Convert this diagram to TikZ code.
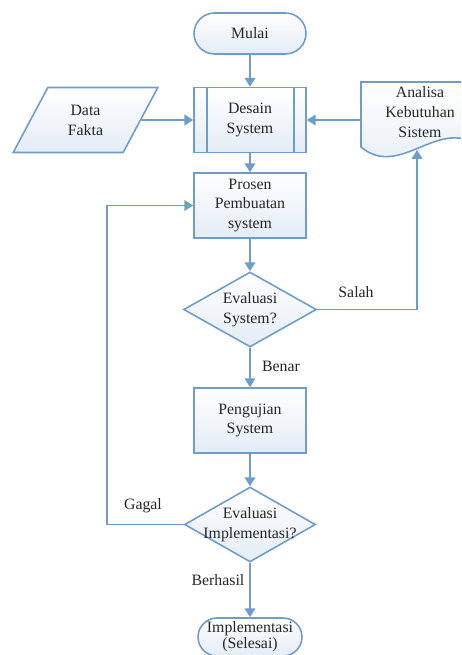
\documentclass[tikz,border=0pt]{standalone}
\usepackage{fontspec}
\setmainfont{Liberation Serif}
\usetikzlibrary{arrows.meta,shapes.geometric,calc}

\definecolor{flowline}{HTML}{6F9DCB}
\definecolor{flowfill}{HTML}{E4ECF6}
\definecolor{flowtext}{HTML}{262626}

\begin{document}
\begin{tikzpicture}[
			x = 0.02cm, y = -0.02cm,
			every node/.style = {font=\fontsize{9}{11.3}\selectfont, text=flowtext, align=center},
			box/.style = {draw=flowline, line width=0.9pt, top color=white, bottom color=flowfill,
				minimum width=2.24cm, minimum height=1.3cm, inner sep=0pt},
			terminal/.style = {box, minimum height=0.82cm, rounded corners=0.41cm},
			dataio/.style = {box, trapezium, trapezium left angle=62, trapezium right angle=118,
				trapezium stretches=true, minimum width=2.9cm},
			decision/.style = {box, diamond, minimum width=2.66cm, minimum height=1.5cm},
			flow/.style = {draw=flowline, line width=0.9pt},
			arrow/.style = {flow, -{Triangle[length=5pt,width=6pt]}}
			]

			\clip (0,0) rectangle (461,655);

			\node[terminal] (mulai) at (250,33.5) {Mulai};
			\node[box] (ds) at (250,120) {Desain\\System};
			\draw[flow] ($(ds.north west)+(14,0)$) -- ($(ds.south west)+(14,0)$);
			\draw[flow] ($(ds.north east)+(-13,0)$) -- ($(ds.south east)+(-13,0)$);

			\node[dataio] (df) at (85.5,120) {Data\\Fakta};

			% dokumen analisa
			\shade[top color=white, bottom color=flowfill, draw=flowline, line width=0.9pt]
				(361,82) -- (479,82) -- (479,147) .. controls (440,115) and (400,180) .. (361,147) -- cycle;
			\node[minimum width=2.36cm, minimum height=1.28cm, inner sep=0pt] (ak) at (420,112) {Analisa\\Kebutuhan\\Sistem};
			\coordinate (ak-in) at (417,150);

			\node[box] (ps) at (250,205.5) {Prosen\\Pembuatan\\system};
			\node[decision, label={[align=center]center:Evaluasi\\System?}] (es) at (250,309.5) {};
			\node[box] (pu) at (250,420.5) {Pengujian\\System};
			\node[decision, minimum width=2.62cm, label={[align=center]center:Evaluasi\\Implementasi?}] (ei) at (250,524.5) {};
			\node[terminal, minimum width=2.08cm, minimum height=0.76cm, rounded corners=0.38cm,
				font=\fontsize{9}{9.2}\selectfont] (selesai) at (250,637) {Implementasi\\(Selesai)};

			\coordinate (gl) at (107,0);

			\draw[arrow] (mulai) -- (ds);
			\draw[arrow] (df) -- (df -| ds.west);
			\draw[arrow] (ak.west |- ds.east) -- (ds.east);
			\draw[arrow] (ds) -- (ps);
			\draw[arrow] (ps) -- (es);
			\draw[arrow] (es.east) -| (ak-in);
			\draw[arrow] (es) -- (pu);
			\draw[arrow] (pu) -- (ei);
			\draw[arrow] (ei.west) -- (ei.west -| gl) |- (ps.west);
			\draw[arrow] (ei) -- (selesai);

			\node (salah) at (356,292) {Salah};
			\node (benar) at (281,366) {Benar};
			\node (gagal) at (143,506) {Gagal};
			\node (berhasil) at (218,580) {Berhasil};

		\end{tikzpicture}
\end{document}
